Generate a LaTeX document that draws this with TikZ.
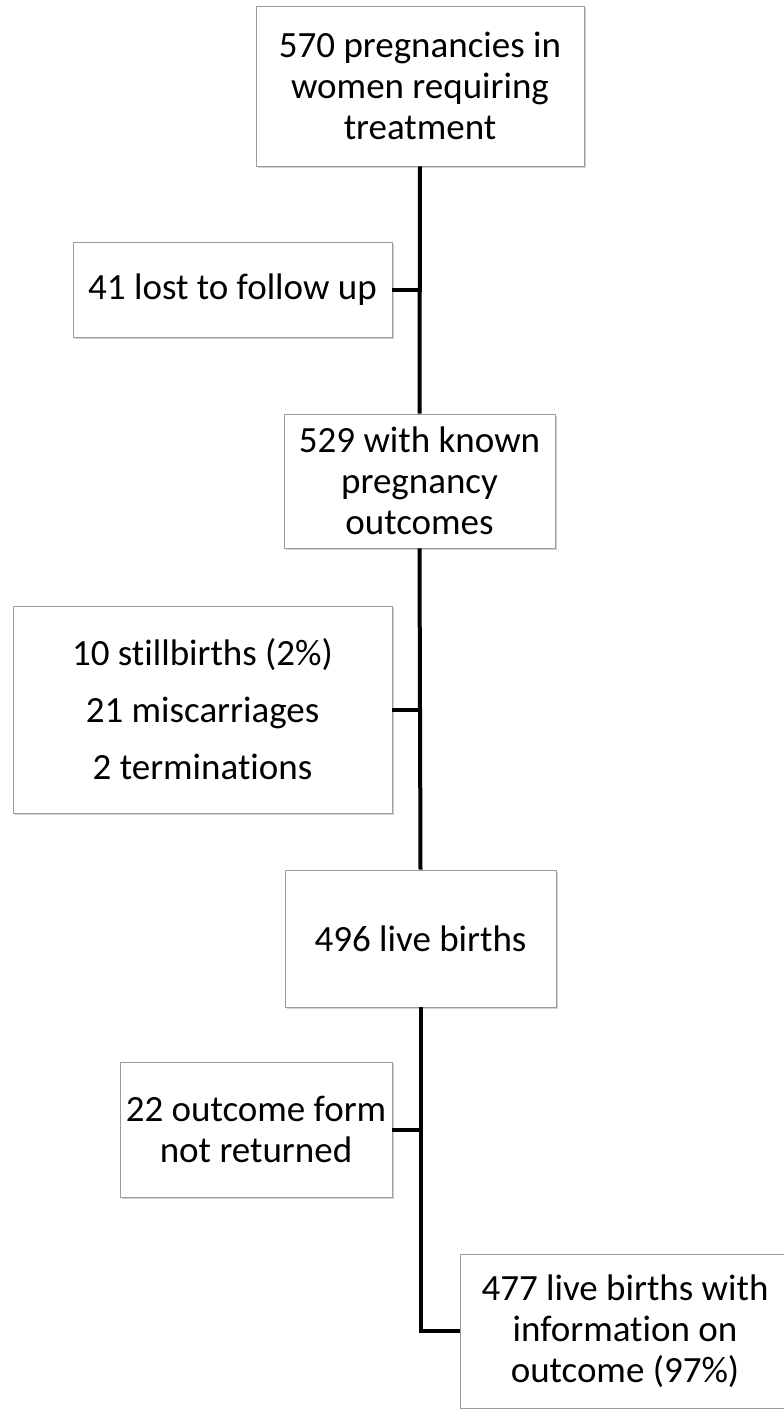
\documentclass[tikz,border=0pt]{standalone}
\usepackage{fontspec}
\setmainfont{Carlito}[Ligatures={NoCommon}, RawFeature={-liga;-clig;-calt;-dlig}]
\usepackage{tikz}
\usetikzlibrary{
  positioning,
  shadows
}
\definecolor{fcBorder}{HTML}{9C9C9C}
\definecolor{fcShadow}{HTML}{7F7F7F}
\tikzset{
  fcbox/.style={
    draw=fcBorder, fill=white, inner sep=0pt, align=center,
    font=\fontsize{18.5}{20.5}\selectfont,
    drop shadow={shadow xshift=0.8pt, shadow yshift=-1.2pt, opacity=0.35, fill=fcShadow}
  },
  trunk/.style={line width=2pt, black}
}

\begin{document}
\begin{tikzpicture}[x=0.5pt, y=-0.5pt]
  \useasboundingbox (0,0) rectangle (783,1409);
  \node[fcbox, minimum width=164pt, minimum height=80pt] (total) at (420,86)
    {570 pregnancies in\\women requiring\\treatment};
  \node[fcbox, minimum width=159.5pt, minimum height=47.5pt] (lost) at (232.5,289.5)
    {41 lost to follow up};
  \node[fcbox, minimum width=135.5pt, minimum height=67pt] (known) at (419.5,481)
    {529 with known\\pregnancy\\outcomes};
  \node[fcbox, minimum width=189.5pt, minimum height=103.5pt] (losses) at (202.5,709.5)
    {10 stillbirths (2\%)\\[8pt]21 miscarriages\\[8pt]2 terminations};
  \node[fcbox, minimum width=135.5pt, minimum height=68.5pt] (live) at (420.5,938.5)
    {496 live births};
  \node[fcbox, minimum width=136pt, minimum height=67.5pt] (noform) at (256,1129.5)
    {22 outcome form\\not returned};
  \node[fcbox, minimum width=165pt, minimum height=77pt] (info) at (625,1331)
    {477 live births with\\information on\\outcome (97\%)};

  \draw[trunk] (total.south) -- (known.north);
  \draw[trunk] (known.south) -- (live.north);
  \draw[trunk] (live.south) -- (live.south |- info.west) -- (info.west);
  \draw[trunk] (lost.east) -- (lost.east -| total.south);
  \draw[trunk] (losses.east) -- (losses.east -| known.south);
  \draw[trunk] (noform.east) -- (noform.east -| live.south);
\end{tikzpicture}
\end{document}
